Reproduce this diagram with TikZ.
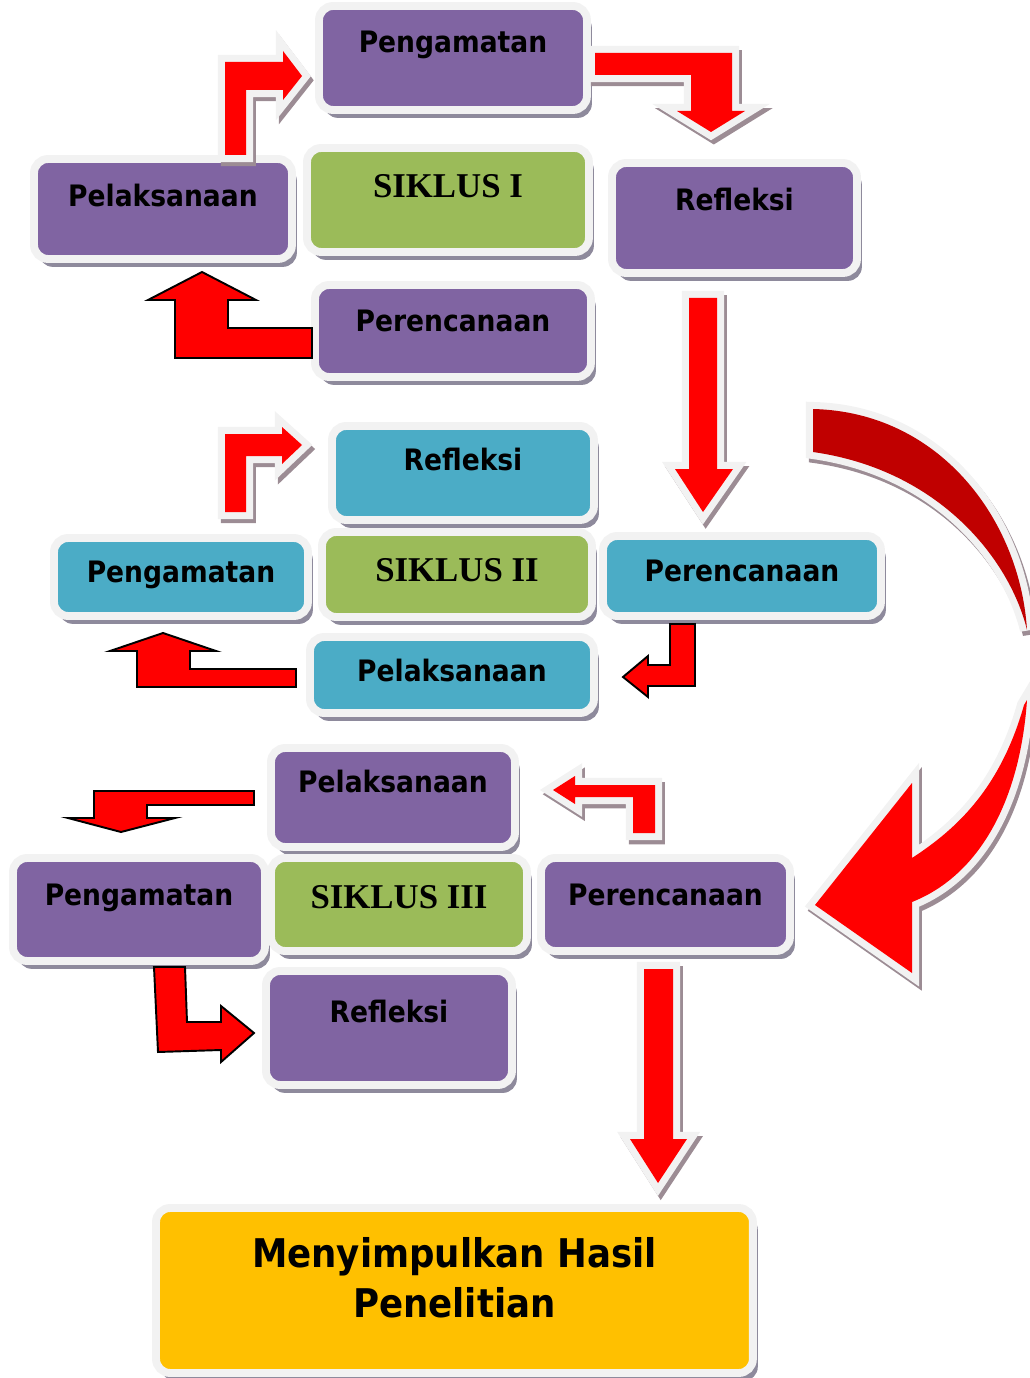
\documentclass[tikz,border=0pt]{standalone}
\usepackage{fontspec}
\usetikzlibrary{shadows}
\newfontfamily\labelfont{DejaVuSansCondensed-Bold.ttf}
\newfontfamily\siklusfont{Liberation Serif}
\definecolor{boxpurple}{HTML}{8064A2}
\definecolor{boxgreen}{HTML}{9BBB59}
\definecolor{boxblue}{HTML}{4BACC6}
\definecolor{boxgold}{HTML}{FFC000}
\definecolor{bordergray}{HTML}{F2F2F2}
\definecolor{boxshadow}{HTML}{8E8A9C}
\definecolor{arrowred}{HTML}{FF0000}
\definecolor{backred}{HTML}{C00000}
\definecolor{arrowshadow}{HTML}{9C8C94}

\begin{document}
\begin{tikzpicture}[x=0.02cm, y=-0.02cm,
    cyclebox/.style={draw=bordergray, line width=4.5pt, rounded corners=8pt, anchor=north west,
        inner xsep=0pt, inner ysep=0pt, outer sep=0pt, font=\labelfont\fontsize{16.8}{20}\selectfont,
        drop shadow={shadow xshift=2.8pt, shadow yshift=-4.5pt, fill=boxshadow, opacity=1}},
    purplebox/.style={cyclebox, fill=boxpurple},
    bluebox/.style={cyclebox, fill=boxblue},
    greenbox/.style={cyclebox, fill=boxgreen, font=\siklusfont\bfseries\fontsize{19.8}{24}\selectfont},
    goldbox/.style={cyclebox, fill=boxgold, align=center, font=\labelfont\fontsize{22.5}{28.5}\selectfont},
    whitearrow/.style={fill=arrowred, line join=miter,
        preaction={draw=arrowshadow, line width=8pt, transform canvas={xshift=1.6pt, yshift=-2.4pt}},
        preaction={draw=bordergray, line width=8pt}},
    blackarrow/.style={fill=arrowred, draw=black, line width=1.1pt, line join=miter}]
    \useasboundingbox (0,0) rectangle (1029,1378);

    % Nodes siklus I
    \node [purplebox, minimum width=5.36cm, text height=0.94cm, text depth=1.14cm] (pengI)     at (319,6)    {Pengamatan};
    \node [greenbox,  minimum width=5.64cm, text height=1.00cm, text depth=1.08cm] (siklusI)   at (307,148)  {SIKLUS I};
    \node [purplebox, minimum width=5.16cm, text height=0.96cm, text depth=1.04cm] (pelI)      at (34,159)   {Pelaksanaan};
    \node [purplebox, minimum width=5.52cm, text height=0.94cm, text depth=0.90cm] (perI)      at (315,285)  {Perencanaan};
    \node [purplebox, minimum width=4.90cm, text height=0.96cm, text depth=1.24cm] (refI)      at (612,163)  {Refleksi};

    % Nodes siklus II
    \node [bluebox,   minimum width=5.24cm, text height=0.90cm, text depth=0.98cm] (refII)     at (332,426)  {Refleksi};
    \node [bluebox,   minimum width=5.08cm, text height=0.90cm, text depth=0.66cm] (pengII)    at (54,538)   {Pengamatan};
    \node [greenbox,  minimum width=5.40cm, text height=1.00cm, text depth=0.70cm] (siklusII)  at (322,532)  {SIKLUS II};
    \node [bluebox,   minimum width=5.56cm, text height=0.92cm, text depth=0.68cm] (perII)     at (603,536)  {Perencanaan};
    \node [bluebox,   minimum width=5.68cm, text height=0.90cm, text depth=0.62cm] (pelII)     at (310,637)  {Pelaksanaan};

    % Nodes siklus III
    \node [purplebox, minimum width=4.88cm, text height=0.90cm, text depth=1.08cm] (pelIII)    at (271,748)  {Pelaksanaan};
    \node [purplebox, minimum width=5.04cm, text height=0.94cm, text depth=1.12cm] (pengIII)   at (13,858)   {Pengamatan};
    \node [greenbox,  minimum width=5.12cm, text height=1.00cm, text depth=0.86cm] (siklusIII) at (271,858)  {SIKLUS III};
    \node [purplebox, minimum width=4.98cm, text height=0.94cm, text depth=0.92cm] (perIII)    at (541,858)  {Perencanaan};
    \node [purplebox, minimum width=4.92cm, text height=1.02cm, text depth=1.26cm] (refIII)    at (266,971)  {Refleksi};

    % Node hasil
    \node [goldbox,   minimum width=11.94cm, text height=2.20cm, text depth=1.10cm] (hasil)    at (156,1208) {Menyimpulkan Hasil\\Penelitian};

    % Arrows siklus I
    \path [whitearrow] (225,155) -- (225,62) -- (283,62) -- (283,51) -- (302,76) -- (283,100) -- (283,90) -- (246,90) -- (246,155) -- cycle;
    \path [whitearrow] (595,53) -- (732,53) -- (732,111) -- (745,111) -- (711,132) -- (677,111) -- (691,111) -- (691,75) -- (595,75) -- cycle;
    \path [blackarrow] (312,328) -- (228,328) -- (228,300) -- (256,300) -- (202,272) -- (148,300) -- (175,300) -- (175,358) -- (312,358) -- cycle;
    \path [whitearrow] (689,298) -- (717,298) -- (717,469) -- (733,469) -- (703,512) -- (675,469) -- (689,469) -- cycle;

    % Arrows siklus II
    \path [whitearrow] (225,512) -- (225,434) -- (282,434) -- (282,427) -- (302,445) -- (282,464) -- (282,456) -- (246,456) -- (246,512) -- cycle;
    \path [blackarrow] (296,669) -- (190,669) -- (190,651) -- (216,651) -- (163,633) -- (110,651) -- (137,651) -- (137,687) -- (296,687) -- cycle;
    \path [blackarrow] (670,624) -- (695,624) -- (695,686) -- (648,686) -- (648,697) -- (623,677) -- (648,656) -- (648,665) -- (670,665) -- cycle;

    % Curved arrow to siklus III
    \path [whitearrow, fill=backred] (813,409) .. controls (940,412) and (1020,520) .. (1027,630)
        .. controls (1010,560) and (940,470) .. (813,452) -- cycle;
    \path [whitearrow] (1027,700) .. controls (1020,800) and (980,875) .. (912,902) -- (912,973) -- (815,905)
        -- (912,783) -- (912,858) .. controls (955,830) and (1000,790) .. (1024,705) -- cycle;

    % Arrows siklus III
    \path [whitearrow] (633,833) -- (633,797) -- (575,797) -- (575,804) -- (553,790) -- (575,776) -- (575,785) -- (655,785) -- (655,833) -- cycle;
    \path [blackarrow] (254,791) -- (94,791) -- (94,818) -- (68,818) -- (121,832) -- (175,818) -- (147,818) -- (147,805) -- (254,805) -- cycle;
    \path [blackarrow] (154,967) -- (185,967) -- (187,1022) -- (221,1022) -- (221,1006) -- (254,1033) -- (221,1062) -- (221,1050) -- (158,1052) -- cycle;
    \path [whitearrow] (644,969) -- (673,969) -- (673,1139) -- (687,1139) -- (658,1183) -- (630,1139) -- (644,1139) -- cycle;

\end{tikzpicture}
\end{document}
